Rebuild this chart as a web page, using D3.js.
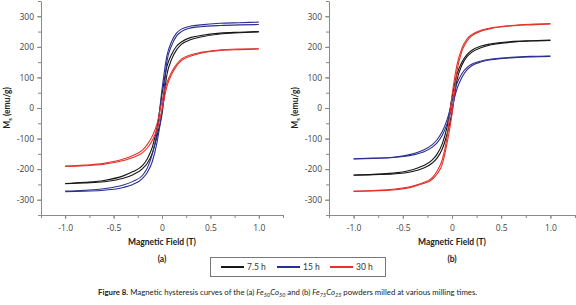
<!DOCTYPE html>
<html>
<head>
<meta charset="utf-8">
<script src="https://cdn.jsdelivr.net/npm/d3@7"></script>
<style>
  body { margin: 0; background: #fff; }
  svg { display: block; font-family: "Lato", "DejaVu Sans", sans-serif; }
</style>
</head>
<body>
<div id="chart"></div>
<script>
// Applied field (T), shared by every branch
var fieldValues = [-1, -0.8, -0.6, -0.4, -0.3, -0.2, -0.15, -0.1, -0.05, 0, 0.05, 0.1, 0.15, 0.2, 0.3, 0.4, 0.6, 0.8, 1];

var seriesNames = ["7.5 h", "15 h", "30 h"];
var seriesColors = ["#161616", "#2b2f8f", "#e3322c"];

// Panel (a) Fe50Co50 - descending (upper) and ascending (lower) branches, emu/g
var aDown75 = [-247, -243, -237, -222, -208, -188, -165, -128, -62, 45, 135, 176, 202, 216, 231, 237, 245, 248, 250];
var aUp75   = [-248, -245, -241, -230, -218, -198, -180, -148, -90, -20, 108, 160, 190, 208, 224, 232, 242, 246, 249];
var aDown15 = [-272, -269, -264, -252, -240, -220, -195, -150, -78, 60, 170, 218, 245, 258, 268, 272, 277, 279, 281];
var aUp15   = [-274, -272, -269, -260, -250, -230, -210, -175, -110, -10, 150, 205, 235, 250, 262, 266, 270, 272, 273];
var aDown30 = [-190, -187, -181, -167, -155, -137, -118, -92, -50, 22, 82, 118, 143, 160, 174, 182, 190, 193, 194];
var aUp30   = [-191, -189, -184, -172, -162, -146, -130, -106, -68, -5, 70, 110, 137, 155, 170, 179, 188, 191, 193];

// Panel (b) Fe75Co25
var bDown75 = [-219, -217, -213, -202, -190, -170, -150, -118, -62, 35, 110, 150, 174, 188, 203, 210, 217, 220, 222];
var bUp75   = [-220, -218, -216, -208, -198, -180, -163, -135, -85, -15, 90, 140, 167, 182, 198, 207, 215, 219, 221];
var bDown15 = [-166, -164, -161, -150, -139, -120, -103, -78, -38, 20, 80, 112, 132, 143, 154, 160, 166, 169, 170];
var bUp15   = [-167, -165, -162, -154, -145, -128, -113, -90, -52, 2, 62, 100, 124, 138, 151, 158, 164, 167, 169];
var bDown30 = [-272, -270, -266, -255, -245, -228, -205, -170, -95, 40, 140, 195, 225, 240, 255, 262, 270, 274, 276];
var bUp30   = [-273, -271, -268, -258, -248, -233, -215, -185, -115, -20, 120, 185, 218, 236, 252, 260, 268, 272, 275];

var xTicks = [-1.0, -0.5, 0, 0.5, 1.0];
var yTicks = [-300, -200, -100, 0, 100, 200, 300];

var width = 576, height = 305;
var svg = d3.select("#chart").append("svg")
    .attr("width", width)
    .attr("height", height);

function drawPanel(left, right, label, branches) {
    var x = d3.scaleLinear().domain([-1.25, 1.25]).range([left, right]);
    var y = d3.scaleLinear().domain([-350, 350]).range([215, 1]);
    var g = svg.append("g");

    // minor ticks
    g.append("g")
        .attr("transform", "translate(0,215)")
        .call(d3.axisBottom(x).tickValues(d3.range(-1.25, 1.26, 0.25)).tickSize(3).tickFormat(""))
        .call(a => a.select(".domain").remove());
    g.append("g")
        .attr("transform", "translate(" + left + ",0)")
        .call(d3.axisLeft(y).tickValues(d3.range(-350, 351, 50)).tickSize(3).tickFormat(""))
        .call(a => a.select(".domain").remove());

    // plain hyphen for negatives, like the original figure
    var xAxis = g.append("g")
        .attr("transform", "translate(0,215)")
        .call(d3.axisBottom(x).tickValues(xTicks).tickSize(4).tickSizeOuter(0)
            .tickFormat(d => d === 0 ? "0" : d.toFixed(1)));
    var yAxis = g.append("g")
        .attr("transform", "translate(" + left + ",0)")
        .call(d3.axisLeft(y).tickValues(yTicks).tickSize(4).tickSizeOuter(0)
            .tickFormat(d => String(d)));

    [xAxis, yAxis].forEach(function (a) {
        a.select(".domain").attr("stroke", "#8a8a8a");
        a.selectAll(".tick text")
            .attr("fill", "#444")
            .attr("font-size", 8.5)
            .attr("font-family", "'Open Sans', sans-serif");
    });
    g.selectAll(".tick line").attr("stroke", "#8a8a8a");
    xAxis.selectAll(".tick text").attr("dy", "1.1em");

    // curves
    var line = d3.line()
        .x((d, i) => x(fieldValues[i]))
        .y(d => y(d))
        .curve(d3.curveMonotoneX);

    branches.forEach(function (pair, s) {
        pair.forEach(function (vals) {
            g.append("path")
                .attr("d", line(vals))
                .attr("fill", "none")
                .attr("stroke", seriesColors[s])
                .attr("stroke-width", 1.1);
        });
    });

    // axis titles
    var cx = x(0);
    g.append("text")
        .attr("x", cx).attr("y", 245)
        .attr("text-anchor", "middle")
        .attr("font-size", 8.5).attr("font-weight", "bold").attr("fill", "#222")
        .text("Magnetic Field (T)");
    g.append("text")
        .attr("x", cx).attr("y", 262)
        .attr("text-anchor", "middle")
        .attr("font-size", 8.5).attr("font-weight", "bold").attr("fill", "#222")
        .text(label);

    var yl = g.append("text")
        .attr("transform", "translate(" + (left - 31) + ",108) rotate(-90)")
        .attr("text-anchor", "middle")
        .attr("font-size", 8.5).attr("font-weight", "bold").attr("fill", "#222");
    yl.append("tspan").text("M");
    yl.append("tspan").attr("font-size", 6).attr("dy", 2).text("s");
    yl.append("tspan").attr("dy", -2).text(" (emu/g)");
}

drawPanel(41, 283, "(a)", [[aDown75, aUp75], [aDown15, aUp15], [aDown30, aUp30]]);
drawPanel(329, 575, "(b)", [[bDown75, bUp75], [bDown15, bUp15], [bDown30, bUp30]]);

// legend
var legend = svg.append("g");
legend.append("rect")
    .attr("x", 210.5).attr("y", 257.5)
    .attr("width", 175).attr("height", 19)
    .attr("fill", "#fff").attr("stroke", "#777").attr("stroke-width", 1);
var legendX = [221, 277, 330];
seriesNames.forEach(function (name, i) {
    legend.append("line")
        .attr("x1", legendX[i]).attr("x2", legendX[i] + 23)
        .attr("y1", 267).attr("y2", 267)
        .attr("stroke", seriesColors[i]).attr("stroke-width", 2);
    legend.append("text")
        .attr("x", legendX[i] + 26).attr("y", 270)
        .attr("font-size", 8.5).attr("fill", "#333")
        .text(name);
});

// caption
var cap = svg.append("text")
    .attr("x", 98).attr("y", 295)
    .attr("font-size", 7.8).attr("fill", "#222");
cap.append("tspan").attr("font-weight", "bold").text("Figure 8.");
cap.append("tspan").text(" Magnetic hysteresis curves of the (a) ");
cap.append("tspan").attr("font-style", "italic").text("Fe");
cap.append("tspan").attr("font-style", "italic").attr("font-size", 5.5).attr("dy", 2).text("50");
cap.append("tspan").attr("font-style", "italic").attr("dy", -2).text("Co");
cap.append("tspan").attr("font-style", "italic").attr("font-size", 5.5).attr("dy", 2).text("50");
cap.append("tspan").attr("dy", -2).text(" and (b) ");
cap.append("tspan").attr("font-style", "italic").text("Fe");
cap.append("tspan").attr("font-style", "italic").attr("font-size", 5.5).attr("dy", 2).text("75");
cap.append("tspan").attr("font-style", "italic").attr("dy", -2).text("Co");
cap.append("tspan").attr("font-style", "italic").attr("font-size", 5.5).attr("dy", 2).text("25");
cap.append("tspan").attr("dy", -2).text(" powders milled at various milling times.");
</script>
</body>
</html>
